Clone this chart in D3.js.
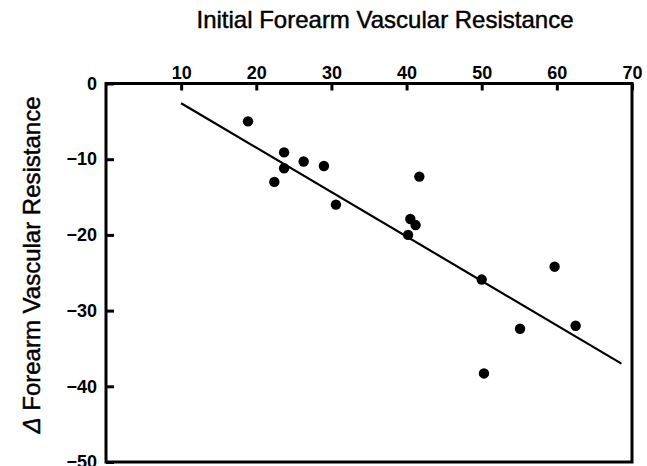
<!DOCTYPE html>
<html>
<head>
<meta charset="utf-8">
<script src="https://cdn.jsdelivr.net/npm/d3@7"></script>
<style>
  body { margin: 0; background: #fff; }
  .tick text { font-family: "Liberation Sans", Arial, sans-serif; font-weight: bold; font-size: 18px; fill: #000; }
  .label { font-family: "Liberation Sans", Arial, sans-serif; font-size: 24px; fill: #000; stroke: #000; stroke-width: 0.45px; }
</style>
</head>
<body>
<div id="chart"></div>
<script>
// initial forearm vascular resistance (x) vs change (y)
var initial_fvr= [18.9, 23.7, 26.3, 29.0, 23.7, 22.4, 30.6, 41.7, 40.5, 41.2, 40.2, 50.0, 59.7, 55.1, 62.5, 50.3];
var delta_fvr= [-5.0, -9.1, -10.3, -10.9, -11.2, -13.0, -16.0, -12.3, -17.9, -18.7, -20.0, -25.9, -24.2, -32.4, -32.0, -38.3];

// regression line end points
var fit_x= [10, 68.6];
var fit_y= [-2.6, -37.0];

var x_ticks= [10, 20, 30, 40, 50, 60, 70];
var y_ticks= [0, -10, -20, -30, -40, -50];

var width= 647;
var height= 466;
var box_left= 106, box_right= 632, box_top= 83.5, box_bottom= 462;

var svg= d3.select("#chart")
	.append("svg")
	.attr("width", width)
	.attr("height", height);

svg.append("rect")
	.attr("width", width)
	.attr("height", height)
	.attr("fill", "#fff");

var x= d3.scaleLinear().domain([0, 70]).range([box_left, box_right]);
var y= d3.scaleLinear().domain([-50, 0]).range([box_bottom, box_top]);

// axes, ticks pointing into the box
var x_axis= svg.append("g")
	.attr("transform", "translate(0," + box_top + ")")
	.call(d3.axisTop(x).tickValues(x_ticks).tickSize(-7).tickPadding(5));

var y_axis= svg.append("g")
	.attr("transform", "translate(" + box_left + ",0)")
	.call(d3.axisLeft(y).tickValues(y_ticks).tickSize(-8).tickPadding(9));

[x_axis, y_axis].forEach(function(a) {
	a.select(".domain").remove();
	a.selectAll(".tick line").attr("stroke", "#000").attr("stroke-width", 3);
});

// frame
svg.append("rect")
	.attr("x", box_left)
	.attr("y", box_top)
	.attr("width", box_right- box_left)
	.attr("height", box_bottom- box_top)
	.attr("fill", "none")
	.attr("stroke", "#000")
	.attr("stroke-width", 3);

// fitted line
svg.append("line")
	.attr("x1", x(fit_x[0]))
	.attr("y1", y(fit_y[0]))
	.attr("x2", x(fit_x[1]))
	.attr("y2", y(fit_y[1]))
	.attr("stroke", "#000")
	.attr("stroke-width", 2.2);

// points
svg.selectAll("circle.pt")
	.data(initial_fvr)
	.enter()
	.append("circle")
		.attr("class", "pt")
		.attr("cx", function(d) { return x(d); })
		.attr("cy", function(d, i) { return y(delta_fvr[i]); })
		.attr("r", 5.2)
		.attr("fill", "#000");

// titles
svg.append("text")
	.attr("class", "label")
	.attr("x", 385)
	.attr("y", 28)
	.attr("text-anchor", "middle")
	.text("Initial Forearm Vascular Resistance");

var y_label= svg.append("text")
	.attr("class", "label")
	.attr("text-anchor", "middle")
	.attr("transform", "translate(40,265) rotate(-90)");
y_label.append("tspan").attr("font-style", "italic").text("Δ");
y_label.append("tspan").text(" Forearm Vascular Resistance");
</script>
</body>
</html>
